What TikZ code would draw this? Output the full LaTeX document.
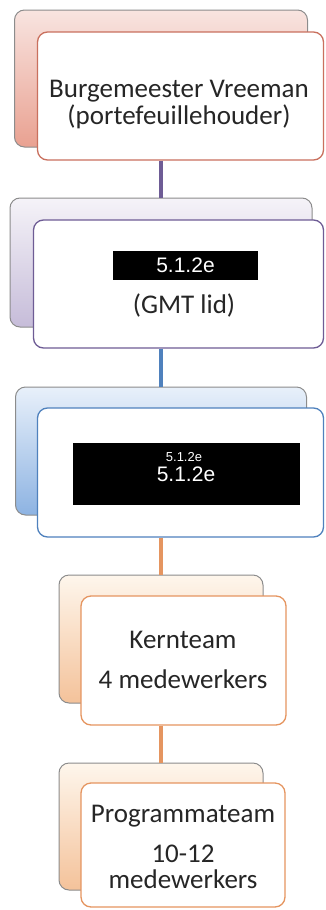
\documentclass[tikz,border=0pt]{standalone}
\usepackage{fontspec}
\setmainfont{Carlito}
\newfontfamily\redactfont{Liberation Sans}
\usetikzlibrary{calc}

\definecolor{redline}{HTML}{C9705E}
\definecolor{redtop}{HTML}{F8E4E0}
\definecolor{redbot}{HTML}{E9A191}
\definecolor{purpline}{HTML}{6E5C95}
\definecolor{purptop}{HTML}{F5F3F8}
\definecolor{purpbot}{HTML}{C6BCD9}
\definecolor{blueline}{HTML}{4F81BD}
\definecolor{bluetop}{HTML}{E8F0FA}
\definecolor{bluebot}{HTML}{8DB3E2}
\definecolor{orngline}{HTML}{E59560}
\definecolor{orngtop}{HTML}{FEF6EC}
\definecolor{orngbot}{HTML}{F4C29A}

\tikzset{
  back/.style={draw=black!45, line width=1pt, rounded corners=10pt, inner sep=0pt, shading=axis},
  front/.style={fill=white, line width=1.3pt, rounded corners=10pt, inner sep=0pt},
  lbl/.style={anchor=base, text=black!85, font=\fontsize{27}{27}\selectfont},
  redact/.style={fill=black, inner sep=0pt},
  rtext/.style={text=white, inner sep=0pt, font=\redactfont\fontsize{21}{21}\selectfont},
  link/.style={line width=4pt}
}

\begin{document}
\begin{tikzpicture}[x=1pt,y=-1pt]
  \useasboundingbox (0,0) rectangle (325,910);

  % back boxes
  \node[back, top color=redtop, bottom color=redbot, minimum width=293, minimum height=137] (b1) at (161,78.5) {};
  \node[back, top color=purptop, bottom color=purpbot, minimum width=302, minimum height=129] (b2) at (161,262.5) {};
  \node[back, top color=bluetop, bottom color=bluebot, minimum width=291, minimum height=128] (b3) at (161,451) {};
  \node[back, top color=orngtop, bottom color=orngbot, minimum width=204, minimum height=128] (b4) at (161,639) {};
  \node[back, top color=orngtop, bottom color=orngbot, minimum width=204, minimum height=127] (b5) at (161,826.5) {};

  % front boxes
  \node[front, draw=redline, minimum width=286, minimum height=128] (f1) at (180.5,96) {};
  \node[front, draw=purpline, minimum width=290, minimum height=128] (f2) at (178.5,284) {};
  \node[front, draw=blueline, minimum width=286, minimum height=129] (f3) at (180.5,472.5) {};
  \node[front, draw=orngline, minimum width=205, minimum height=129] (f4) at (183.5,660.5) {};
  \node[front, draw=orngline, minimum width=204, minimum height=124] (f5) at (183,845) {};

  % connectors
  \draw[link, purpline] (b1.center |- f1.south) -- (b2.north);
  \draw[link, blueline] (b2.center |- f2.south) -- (b3.north);
  \draw[link, orngline] (b3.center |- f3.south) -- (b4.north);
  \draw[link, orngline] (b4.center |- f4.south) -- (b5.north);

  % texts
  \node[lbl] (t1a) at (179,97) {Burgemeester Vreeman};
  \node[lbl] (t1b) at (179,124) {(portefeuillehouder)};

  \node[redact, minimum width=145, minimum height=29] (r2) at (185.5,265.5) {};
  \node[rtext] (r2t) at (r2.center) {5.1.2e};
  \node[lbl] (t2) at (184,313) {(GMT lid)};

  \node[redact, minimum width=227, minimum height=62] (r3) at (186.5,474) {};
  \node[rtext, font=\redactfont\fontsize{13}{13}\selectfont] (r3a) at (184,457) {5.1.2e};
  \node[rtext] (r3b) at (186,474) {5.1.2e};

  \node[lbl] (t4a) at (183,648) {Kernteam};
  \node[lbl] (t4b) at (183,688) {4 medewerkers};

  \node[lbl] (t5a) at (183,822) {Programmateam};
  \node[lbl] (t5b) at (183,862) {10-12};
  \node[lbl] (t5c) at (183,888) {medewerkers};
\end{tikzpicture}
\end{document}
